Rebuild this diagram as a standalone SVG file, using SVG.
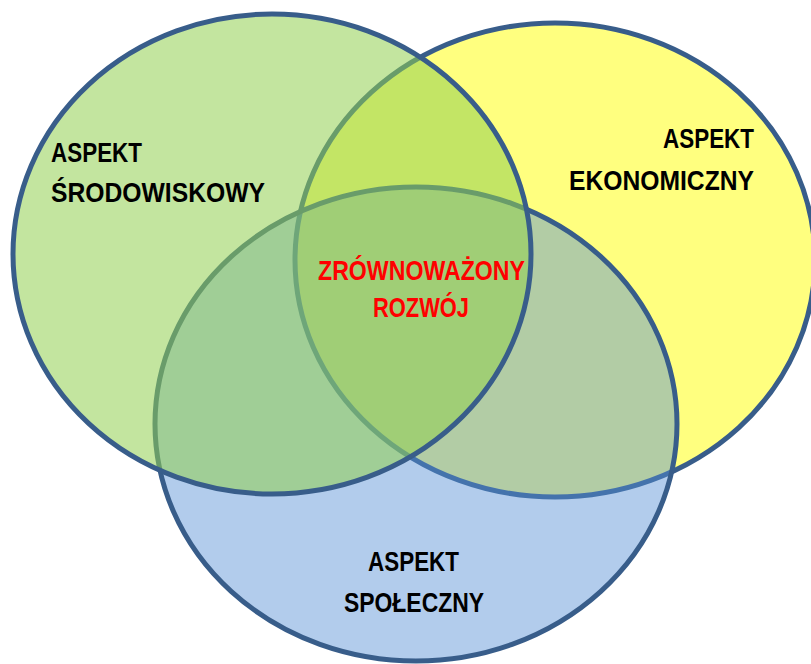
<svg xmlns="http://www.w3.org/2000/svg" width="811" height="664" viewBox="0 0 811 664">
<style>
.ring{stroke:#385D8A;stroke-width:5}
.lbl{font-family:"Liberation Sans",Arial,sans-serif;font-weight:bold;font-size:28px;fill:#000000}
.red{fill:#FF0000}
</style>
<rect width="811" height="664" fill="#ffffff"/>
<g id="connectors"></g>
<g id="node-ekonomiczny">
<ellipse class="ring" cx="555" cy="260" rx="260" ry="237" fill="#FFFF00" fill-opacity="0.5"/>
</g>
<g id="node-spoleczny">
<ellipse class="ring" cx="416" cy="424" rx="261" ry="237" fill="#558ED5" fill-opacity="0.45"/>
</g>
<g id="node-srodowiskowy">
<ellipse class="ring" cx="272" cy="254" rx="259" ry="240" fill="#92D050" fill-opacity="0.55"/>
</g>
<g id="labels">
<text class="lbl" x="51" y="162" textLength="91" lengthAdjust="spacingAndGlyphs">ASPEKT</text>
<text class="lbl" x="51" y="202" textLength="214" lengthAdjust="spacingAndGlyphs">ŚRODOWISKOWY</text>
<text class="lbl" x="663" y="148" textLength="91" lengthAdjust="spacingAndGlyphs">ASPEKT</text>
<text class="lbl" x="569" y="190" textLength="185" lengthAdjust="spacingAndGlyphs">EKONOMICZNY</text>
<text class="lbl red" x="318" y="280" textLength="207" lengthAdjust="spacingAndGlyphs">ZRÓWNOWAŻONY</text>
<text class="lbl red" x="373" y="317" textLength="96" lengthAdjust="spacingAndGlyphs">ROZWÓJ</text>
<text class="lbl" x="368" y="571" textLength="91" lengthAdjust="spacingAndGlyphs">ASPEKT</text>
<text class="lbl" x="344" y="612" textLength="140" lengthAdjust="spacingAndGlyphs">SPOŁECZNY</text>
</g>
</svg>
